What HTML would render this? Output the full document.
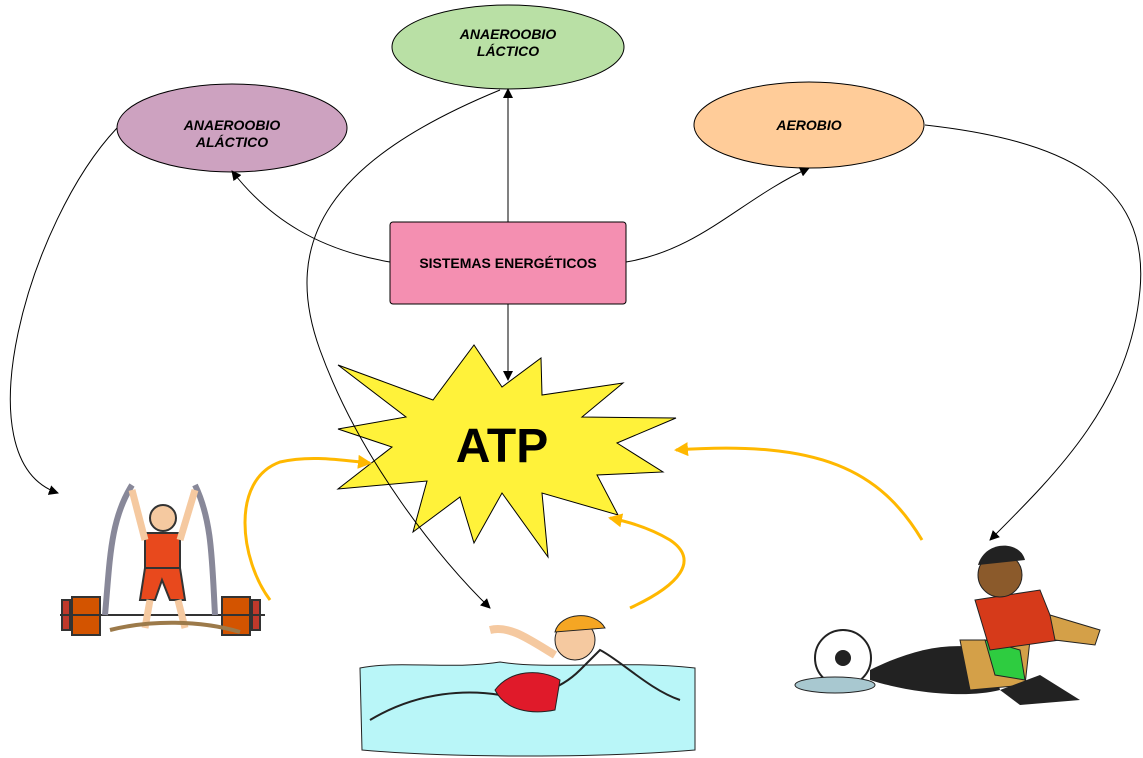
<!DOCTYPE html>
<html><head><meta charset="utf-8"><style>
html,body{margin:0;padding:0;background:#fff;}
svg{display:block;}
text{font-family:"Liberation Sans",sans-serif;}
</style></head><body>
<svg width="1143" height="758" viewBox="0 0 1143 758" xmlns="http://www.w3.org/2000/svg">
<defs>
<marker id="ab" markerWidth="10" markerHeight="10" refX="9" refY="5" orient="auto" markerUnits="userSpaceOnUse"><path d="M0,0 L10,5 L0,10 z" fill="#000"/></marker>
<marker id="ao" markerWidth="14" markerHeight="14" refX="12" refY="7" orient="auto" markerUnits="userSpaceOnUse"><path d="M0,0 L14,7 L0,14 z" fill="#ffb800"/></marker>
</defs>
<ellipse cx="232" cy="128" rx="115" ry="44" fill="#cda2c0" stroke="#000"/>
<text x="232" y="130" text-anchor="middle" font-size="14" font-weight="bold" font-style="italic">ANAEROOBIO</text>
<text x="232" y="147" text-anchor="middle" font-size="14" font-weight="bold" font-style="italic">ALÁCTICO</text>
<ellipse cx="508" cy="47" rx="116" ry="42" fill="#b9e0a5" stroke="#000"/>
<text x="508" y="39" text-anchor="middle" font-size="14" font-weight="bold" font-style="italic">ANAEROOBIO</text>
<text x="508" y="56" text-anchor="middle" font-size="14" font-weight="bold" font-style="italic">LÁCTICO</text>
<ellipse cx="809" cy="125" rx="115" ry="43" fill="#ffcc99" stroke="#000"/>
<text x="809" y="130" text-anchor="middle" font-size="14" font-weight="bold" font-style="italic">AEROBIO</text>
<rect x="390" y="222" width="236" height="82" rx="3" fill="#f48fb1" stroke="#000"/>
<text x="508" y="268" text-anchor="middle" font-size="14" font-weight="bold">SISTEMAS ENERGÉTICOS</text>
<polygon points="338,365 433,400 474,345 502,387 541,358 542,395 623,383 582,417 676,418 617,443 663,472 597,475 618,515 542,493 548,557 502,493 474,543 460,497 413,532 427,481 338,489 392,447 338,429 406,417" fill="#fff23a" stroke="#000"/>
<text x="502" y="462" text-anchor="middle" font-size="48" font-weight="bold">ATP</text>
<path d="M390,262 C320,250 270,220 232,171" fill="none" stroke="#000" marker-end="url(#ab)"/>
<path d="M508,222 L508,89" fill="none" stroke="#000" marker-end="url(#ab)"/>
<path d="M626,262 C700,250 740,200 809,168" fill="none" stroke="#000" marker-end="url(#ab)"/>
<path d="M508,304 L508,380" fill="none" stroke="#000" marker-end="url(#ab)"/>
<path d="M117,128 C30,220 -40,460 58,493" fill="none" stroke="#000" marker-end="url(#ab)"/>
<path d="M500,90 C330,160 280,240 320,350 C360,460 440,560 490,608" fill="none" stroke="#000" marker-end="url(#ab)"/>
<path d="M925,125 C1060,140 1150,180 1140,290 C1130,400 1060,470 990,540" fill="none" stroke="#000" marker-end="url(#ab)"/>
<path d="M270,600 C240,560 230,480 280,462 C310,455 340,460 370,463" fill="none" stroke="#ffb800" stroke-width="3" marker-end="url(#ao)"/>
<path d="M630,608 C680,585 700,560 670,540 C650,528 630,522 610,518" fill="none" stroke="#ffb800" stroke-width="3" marker-end="url(#ao)"/>
<path d="M922,540 C880,470 820,440 676,450" fill="none" stroke="#ffb800" stroke-width="3" marker-end="url(#ao)"/>
<g stroke="#333" stroke-width="2">
<rect x="62" y="600" width="8" height="30" fill="#c0392b"/>
<rect x="72" y="597" width="28" height="38" fill="#d35400"/>
<rect x="222" y="597" width="28" height="38" fill="#d35400"/>
<rect x="252" y="600" width="8" height="30" fill="#c0392b"/>
<line x1="60" y1="615" x2="265" y2="615"/>
<path d="M105,615 C110,560 110,520 132,485 M215,615 C212,560 212,520 195,485" fill="none" stroke="#889" stroke-width="6"/>
<circle cx="163" cy="518" r="13" fill="#f5c9a0"/>
<rect x="145" y="533" width="35" height="35" fill="#e8491d"/>
<path d="M145,568 L140,600 L155,600 L162,580 L170,600 L185,600 L180,568 z" fill="#e8491d"/>
<line x1="145" y1="540" x2="132" y2="490" stroke="#f5c9a0" stroke-width="7"/>
<line x1="180" y1="540" x2="195" y2="490" stroke="#f5c9a0" stroke-width="7"/>
<line x1="150" y1="600" x2="145" y2="628" stroke="#f5c9a0" stroke-width="7"/>
<line x1="178" y1="600" x2="185" y2="628" stroke="#f5c9a0" stroke-width="7"/>
</g>
<path d="M110,630 C150,620 200,620 240,632" stroke="#9c7a4a" stroke-width="4" fill="none"/>
<path d="M360,668 C400,660 450,670 500,662 C550,670 620,660 695,668 L695,750 C600,758 450,758 362,750 z" fill="#b9f6f8" stroke="#222"/>
<path d="M370,720 C420,690 470,690 500,695 C530,700 560,690 580,670 L600,650 C620,660 650,690 680,700" fill="none" stroke="#222" stroke-width="2"/>
<path d="M495,690 C510,670 540,668 560,680 L555,710 C530,715 505,710 495,690 z" fill="#e01a2a" stroke="#222"/>
<circle cx="575" cy="640" r="20" fill="#f5c9a0" stroke="#222"/>
<path d="M555,632 C560,612 595,610 605,628 z" fill="#f5a623" stroke="#222"/>
<path d="M555,655 C530,640 510,625 490,630" fill="none" stroke="#f5c9a0" stroke-width="8"/>
<circle cx="843" cy="658" r="28" fill="#fff" stroke="#222" stroke-width="2"/>
<circle cx="843" cy="658" r="8" fill="#222"/>
<ellipse cx="835" cy="685" rx="40" ry="8" fill="#a8c8d0" stroke="#222"/>
<path d="M870,670 C910,650 950,640 990,650 L1000,690 C960,700 900,690 870,680 z" fill="#222"/>
<path d="M960,640 L1030,640 L1025,685 L970,690 z" fill="#d4a048" stroke="#222"/>
<path d="M985,640 L1020,650 L1025,680 L995,675 z" fill="#2ecc40" stroke="#222"/>
<path d="M975,600 L1040,590 L1060,640 L990,650 z" fill="#d63a1a" stroke="#222"/>
<circle cx="1000" cy="575" r="22" fill="#8b5a2b" stroke="#222"/>
<path d="M978,565 C985,540 1020,540 1025,560 z" fill="#222"/>
<path d="M1050,615 L1100,630 L1095,645 L1055,640 z" fill="#d4a048" stroke="#222"/>
<path d="M1000,690 L1040,675 L1080,700 L1020,705 z" fill="#222"/>
</svg>
</body></html>
